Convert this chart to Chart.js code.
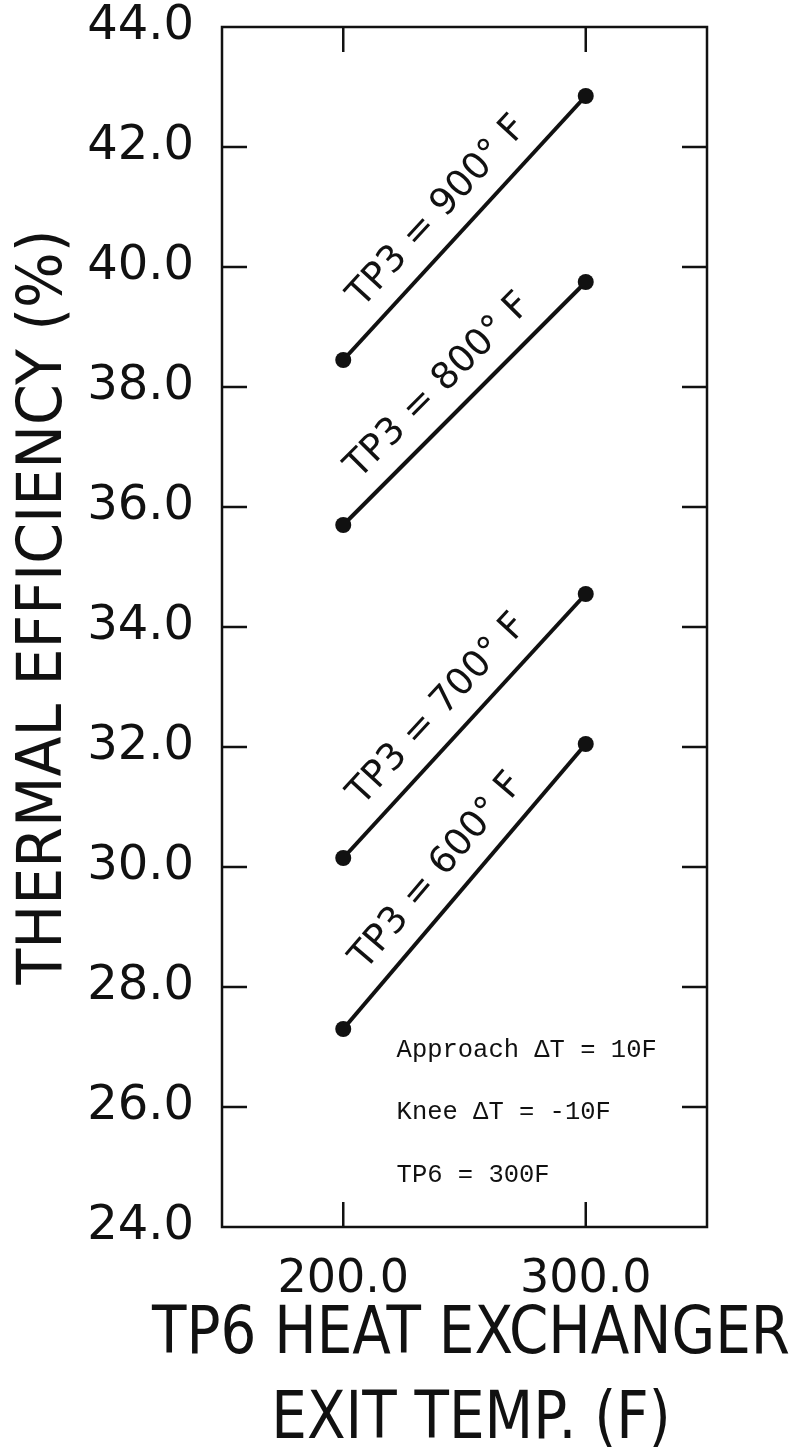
<!DOCTYPE html>
<html>
<head>
<meta charset="utf-8">
<script src="https://cdn.jsdelivr.net/npm/chart.js@4.4.1/dist/chart.umd.min.js"></script>
<style>
  html, body { margin: 0; padding: 0; background: #fff; }
  #chart { display: block; }
</style>
</head>
<body>
<canvas id="chart" width="796" height="1456"></canvas>
<script>
// Chart data
const exitTemps = [200, 300];
const tp3Labels = ["TP3 = 900° F", "TP3 = 800° F", "TP3 = 700° F", "TP3 = 600° F"];
const eff900 = [38.45, 42.85];
const eff800 = [35.7, 39.75];
const eff700 = [30.15, 34.55];
const eff600 = [27.3, 32.05];
const xTickValues = [200, 300];
const yTickValues = [24, 26, 28, 30, 32, 34, 36, 38, 40, 42, 44];
const xTitleLines = ["TP6 HEAT EXCHANGER", "EXIT TEMP. (F)"];
const yTitle = "THERMAL EFFICIENCY (%)";
const notes = ["Approach \u0394T = 10F", "Knee \u0394T = -10F", "TP6 = 300F"];
const noteX = 222;
const noteY = [26.83, 25.8, 24.75];

const letterFont = "'DejaVu Sans', sans-serif";
const ink = "#111";

function toPoints(values) {
  return exitTemps.map((x, i) => ({ x: x, y: values[i] }));
}

const datasets = [eff900, eff800, eff700, eff600].map((vals, i) => ({
  label: tp3Labels[i],
  data: toPoints(vals),
  showLine: true,
  borderColor: ink,
  backgroundColor: ink,
  borderWidth: 4,
  pointRadius: 8,
  pointBackgroundColor: ink,
  pointBorderWidth: 0,
}));

// Box around the plot with inward ticks on all four sides
const frameTicks = {
  id: "frameTicks",
  afterDraw(chart) {
    const { ctx, chartArea: a, scales } = chart;
    const len = 25;
    ctx.save();
    ctx.strokeStyle = ink;
    ctx.lineWidth = 2.5;
    ctx.strokeRect(a.left, a.top, a.right - a.left, a.bottom - a.top);
    ctx.beginPath();
    scales.x.ticks.forEach((t) => {
      const px = scales.x.getPixelForValue(t.value);
      ctx.moveTo(px, a.bottom);
      ctx.lineTo(px, a.bottom - len);
      ctx.moveTo(px, a.top);
      ctx.lineTo(px, a.top + len);
    });
    scales.y.ticks.forEach((t) => {
      const py = scales.y.getPixelForValue(t.value);
      if (t.value === scales.y.min || t.value === scales.y.max) return;
      ctx.moveTo(a.left, py);
      ctx.lineTo(a.left + len, py);
      ctx.moveTo(a.right, py);
      ctx.lineTo(a.right - len, py);
    });
    ctx.stroke();
    ctx.restore();
  },
};

// Curve labels written along each line
const lineLabels = {
  id: "lineLabels",
  afterDatasetsDraw(chart) {
    const { ctx } = chart;
    ctx.save();
    ctx.fillStyle = ink;
    ctx.font = "37px " + letterFont;
    ctx.textAlign = "center";
    ctx.textBaseline = "bottom";
    chart.data.datasets.forEach((ds, i) => {
      const pts = chart.getDatasetMeta(i).data;
      const p0 = pts[0], p1 = pts[1];
      const ang = Math.atan2(p1.y - p0.y, p1.x - p0.x);
      const mx = (p0.x + p1.x) / 2;
      const my = (p0.y + p1.y) / 2;
      ctx.save();
      ctx.translate(mx, my);
      ctx.rotate(ang);
      ctx.fillText(ds.label, -6, -12);
      ctx.restore();
    });
    ctx.restore();
  },
};

// Lettered axis titles (condensed like the original lettering)
const axisTitles = {
  id: "axisTitles",
  afterDraw(chart) {
    const { ctx } = chart;
    ctx.save();
    ctx.fillStyle = ink;
    ctx.textAlign = "center";
    ctx.textBaseline = "middle";
    ctx.font = "66px " + letterFont;
    const sx = 638 / ctx.measureText(xTitleLines[0]).width;
    xTitleLines.forEach((line, i) => {
      ctx.save();
      ctx.translate(471, 1336 + i * 85);
      ctx.scale(sx, 1);
      ctx.fillText(line, 0, 0);
      ctx.restore();
    });
    ctx.font = "62px " + letterFont;
    const sy = 755 / ctx.measureText(yTitle).width;
    ctx.save();
    ctx.translate(45, 607);
    ctx.rotate(-Math.PI / 2);
    ctx.scale(sy, 1);
    ctx.fillText(yTitle, 0, 0);
    ctx.restore();
    ctx.restore();
  },
};

// Typed notes in the lower right of the plot
const noteText = {
  id: "noteText",
  afterDatasetsDraw(chart) {
    const { ctx, scales } = chart;
    ctx.save();
    ctx.fillStyle = ink;
    ctx.font = "25.5px 'Liberation Mono', monospace";
    ctx.textAlign = "left";
    ctx.textBaseline = "alphabetic";
    notes.forEach((line, i) => {
      ctx.fillText(line, scales.x.getPixelForValue(noteX), scales.y.getPixelForValue(noteY[i]));
    });
    ctx.restore();
  },
};

new Chart(document.getElementById("chart"), {
  type: "scatter",
  data: { datasets: datasets },
  options: {
    responsive: false,
    animation: false,
    layout: { padding: { top: 27, right: 89, left: 0, bottom: 0 } },
    plugins: {
      legend: { display: false },
      tooltip: { enabled: false },
    },
    scales: {
      x: {
        type: "linear",
        position: "bottom",
        min: 150,
        max: 350,
        grid: { display: false },
        border: { display: false },
        afterBuildTicks: (axis) => {
          axis.ticks = xTickValues.map((v) => ({ value: v }));
        },
        afterFit: (axis) => {
          axis.height = 229;
          axis.paddingLeft = 0;
          axis.paddingRight = 0;
        },
        ticks: {
          color: ink,
          padding: 17,
          maxRotation: 0,
          font: { family: letterFont, size: 46 },
          callback: (v) => Number(v).toFixed(1),
        },
        title: { display: false },
      },
      y: {
        type: "linear",
        position: "left",
        min: 24,
        max: 44,
        grid: { display: false },
        border: { display: false },
        afterBuildTicks: (axis) => {
          axis.ticks = yTickValues.map((v) => ({ value: v }));
        },
        afterFit: (axis) => {
          axis.width = 222;
          axis.paddingTop = 0;
          axis.paddingBottom = 0;
        },
        ticks: {
          color: ink,
          padding: 20,
          font: { family: letterFont, size: 48 },
          callback: (v) => Number(v).toFixed(1),
        },
        title: { display: false },
      },
    },
  },
  plugins: [frameTicks, lineLabels, noteText, axisTitles],
});
</script>
</body>
</html>
